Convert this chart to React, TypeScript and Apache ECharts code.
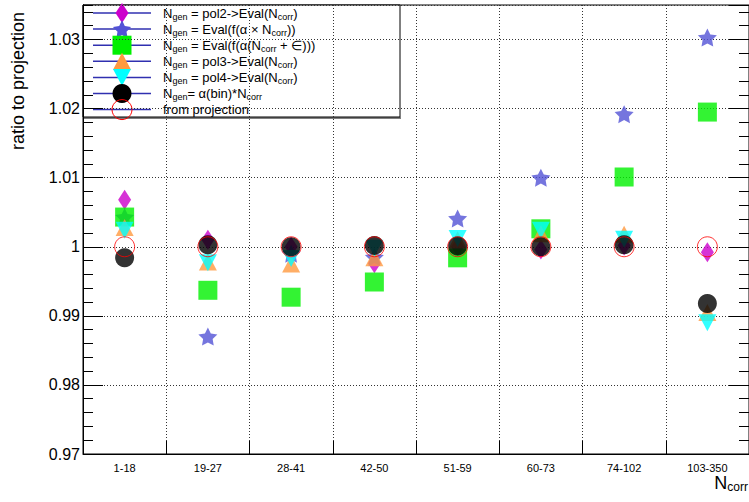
import React, { useEffect, useRef } from "react";
import * as echarts from "echarts";

const FONT = "'Liberation Sans', Arial, Helvetica, sans-serif";

const categories = ["1-18", "19-27", "28-41", "42-50", "51-59", "60-73", "74-102", "103-350"];

// N_gen = pol2->Eval(N_corr)   (magenta diamond)
const pol2Vals = [1.0068, 1.001, 1.0, 0.9976, 1.0, 0.9996, 1.0002, 0.9992];
// N_gen = Eval(f(alpha x N_corr))  (blue star)
const evalAlphaVals = [1.0043, 0.987, 0.999, 0.9985, 1.0041, 1.01, 1.0192, 1.0303];
// N_gen = Eval(f(alpha(N_corr + eps)))  (green square)
const evalAlphaEpsVals = [1.0043, 0.9937, 0.9927, 0.9949, 0.9984, 1.0026, 1.0101, 1.0195];
// N_gen = pol3->Eval(N_corr)  (orange triangle up)
const pol3Vals = [1.0028, 0.9978, 0.9975, 0.9984, 1.001, 1.0019, 1.0018, 0.9905];
// N_gen = pol4->Eval(N_corr)  (cyan triangle down)
const pol4Vals = [1.0024, 0.9977, 0.9983, 0.9998, 1.0012, 1.0024, 1.0011, 0.989];
// N_gen = alpha(bin)*N_corr  (black circle)
const alphaBinVals = [0.9984, 1.0003, 1.0, 1.0002, 1.0001, 1.0, 1.0003, 0.9918];
// from projection (red open circle)
const projectionVals = [1.0, 1.0, 1.0, 1.0, 1.0, 1.0, 1.0, 1.0];

const yMin = 0.97;
const yMax = 1.035;
const yMajor = 0.01;
const yMinor = 0.002;

const legendTexts = [
  "{m|N}{s|gen}{m| = pol2->Eval(N}{s|corr}{m|)}",
  "{m|N}{s|gen}{m| = Eval(f(α × N}{s|corr}{m|))}",
  "{m|N}{s|gen}{m| = Eval(f(α(N}{s|corr}{m| + ∈)))}",
  "{m|N}{s|gen}{m| = pol3->Eval(N}{s|corr}{m|)}",
  "{m|N}{s|gen}{m| = pol4->Eval(N}{s|corr}{m|)}",
  "{m|N}{s|gen}{m|= α(bin)*N}{s|corr}",
  "{m|from projection}",
];

const starPts: number[][] = [
  [50, 0], [64.7, 29.8], [97.55, 34.55], [73.78, 57.73], [79.39, 90.45],
  [50, 75], [20.61, 90.45], [26.22, 57.73], [2.45, 34.55], [35.3, 29.8],
];
const STAR = "path://M" + starPts.map((p) => p[0] + "," + p[1]).join(" L") + " Z";

const C_MAG = "#cc00cc";
const C_STAR = "#5252d6";
const C_GREEN = "#00f000";
const C_ORANGE = "#ff9a40";
const C_CYAN = "#00ffff";
const C_BLACK = "#000000";
const C_RED = "#ff0000";

export default function App() {
  const ref = useRef<HTMLDivElement>(null);
  useEffect(() => {
    const chart = echarts.init(ref.current!, null, { renderer: "svg" });

    const gridLeft = 83;
    const gridTop = 5;
    const gridW = 668;
    const gridH = 449;

    const dotted = { type: [1, 2] as any, color: "#333", width: 1 };

    const mkY = (interval: number, pos: "left" | "right", tickLen: number, labels: boolean, split: boolean) => ({
      type: "value",
      min: yMin,
      max: yMax,
      interval,
      position: pos,
      axisLine: { show: true, lineStyle: { color: "#000", width: 1 } },
      axisTick: { show: true, inside: true, length: tickLen, lineStyle: { color: "#000", width: 1 } },
      axisLabel: {
        show: labels,
        fontSize: 16,
        fontFamily: FONT,
        color: "#000",
        margin: 3,
        showMaxLabel: false,
        formatter: (v: number) => {
          const k = Math.round(v * 100);
          if (Math.abs(v * 100 - k) > 0.01) return "";
          return String(k / 100);
        },
      },
      splitLine: { show: split, lineStyle: dotted },
    });

    const series: any[] = [
      { name: "pol2", data: pol2Vals, symbol: "diamond", symbolSize: [13, 20], itemStyle: { color: C_MAG } },
      { name: "evalAlpha", data: evalAlphaVals, symbol: STAR, symbolSize: [19, 18], itemStyle: { color: C_STAR } },
      { name: "evalAlphaEps", data: evalAlphaEpsVals, symbol: "rect", symbolSize: 19, itemStyle: { color: C_GREEN } },
      { name: "pol3", data: pol3Vals, symbol: "triangle", symbolSize: [18, 17], itemStyle: { color: C_ORANGE } },
      { name: "pol4", data: pol4Vals, symbol: "triangle", symbolRotate: 180, symbolSize: [18, 17], itemStyle: { color: C_CYAN } },
      { name: "alphaBin", data: alphaBinVals, symbol: "circle", symbolSize: 19, itemStyle: { color: C_BLACK } },
      {
        name: "projection",
        data: projectionVals,
        symbol: "circle",
        symbolSize: 20,
        itemStyle: { color: "rgba(0,0,0,0)", borderColor: C_RED, borderWidth: 1 },
      },
    ].map((s) => ({ ...s, type: "scatter", xAxisIndex: 0, yAxisIndex: 0, silent: true }));

    // legend graphic
    const lgX = 83, lgY = 5, lgW = 317, lgH = 112;
    const rowY = (i: number) => 13 + i * 16.1;
    const mx = 122;
    const legendChildren: any[] = [
      { type: "rect", shape: { x: lgX, y: lgY, width: lgW, height: lgH }, style: { fill: "#fff", stroke: "#000", lineWidth: 1 } },
      { type: "line", shape: { x1: lgX + 1, y1: lgY + lgH + 1, x2: lgX + lgW + 1, y2: lgY + lgH + 1 }, style: { stroke: "#000", lineWidth: 1 } },
    ];
    const markerFor = (i: number, cy: number): any => {
      switch (i) {
        case 0:
          return { type: "polygon", shape: { points: [[mx, cy - 10], [mx + 6.5, cy], [mx, cy + 10], [mx - 6.5, cy]] }, style: { fill: C_MAG } };
        case 1:
          return { type: "polygon", shape: { points: starPts.map((p) => [mx - 9.5 + p[0] * 0.19, cy - 9 + p[1] * 0.2]) }, style: { fill: C_STAR } };
        case 2:
          return { type: "rect", shape: { x: mx - 9.5, y: cy - 9.5, width: 19, height: 19 }, style: { fill: C_GREEN } };
        case 3:
          return { type: "polygon", shape: { points: [[mx, cy - 8.5], [mx + 9, cy + 8.5], [mx - 9, cy + 8.5]] }, style: { fill: C_ORANGE } };
        case 4:
          return { type: "polygon", shape: { points: [[mx, cy + 8.5], [mx + 9, cy - 8.5], [mx - 9, cy - 8.5]] }, style: { fill: C_CYAN } };
        case 5:
          return { type: "circle", shape: { cx: mx, cy, r: 9.5 }, style: { fill: C_BLACK } };
        default:
          return { type: "circle", shape: { cx: mx, cy, r: 10 }, style: { fill: "none", stroke: C_RED, lineWidth: 1 } };
      }
    };
    legendTexts.forEach((t, i) => {
      const cy = rowY(i);
      legendChildren.push({ type: "line", shape: { x1: 93, y1: cy, x2: 151, y2: cy }, style: { stroke: "#3030b0", lineWidth: 1.5 } });
    });
    legendTexts.forEach((t, i) => {
      const cy = rowY(i);
      legendChildren.push(markerFor(i, cy));
      legendChildren.push({
        type: "text",
        x: 163,
        y: cy,
        style: {
          text: t,
          align: "left",
          verticalAlign: "middle",
          fill: "#000",
          rich: {
            m: { fontSize: 13, fontFamily: FONT, fill: "#000" },
            s: { fontSize: 9, fontFamily: FONT, fill: "#000", padding: [7, 0, 0, 0] },
          },
        },
      });
    });

    const option: any = {
      animation: false,
      backgroundColor: "#fff",
      grid: { left: gridLeft, top: gridTop, width: gridW, height: gridH, show: true, borderColor: "#000", borderWidth: 1, backgroundColor: "rgba(0,0,0,0)" },
      xAxis: {
        type: "category",
        data: categories,
        boundaryGap: true,
        axisLine: { show: true, lineStyle: { color: "#000", width: 1 } },
        axisTick: { show: true, inside: true, length: 13, lineStyle: { color: "#000", width: 1 } },
        axisLabel: { fontSize: 11, fontFamily: FONT, color: "#000", margin: 8 },
        splitLine: { show: true, lineStyle: dotted },
      },
      yAxis: [
        mkY(yMajor, "left", 20, true, true),
        mkY(yMinor, "left", 10, false, false),
        mkY(yMajor, "right", 20, false, false),
        mkY(yMinor, "right", 10, false, false),
      ],
      series,
      graphic: [
        { type: "group", z: 100, children: legendChildren },
        {
          type: "text",
          z: 100,
          x: 18,
          y: 12,
          rotation: Math.PI / 2,
          style: { text: "ratio to projection", fontSize: 18, fontFamily: FONT, fill: "#000", align: "right", verticalAlign: "middle" },
        },
        {
          type: "text",
          z: 100,
          x: 748,
          y: 483,
          style: {
            text: "{n|N}{s|corr}",
            align: "right",
            verticalAlign: "middle",
            rich: {
              n: { fontSize: 18, fontFamily: FONT, fill: "#000" },
              s: { fontSize: 12, fontFamily: FONT, fill: "#000", padding: [8, 0, 0, 0] },
            },
          },
        },
      ],
    };
    chart.setOption(option);
    return () => chart.dispose();
  }, []);
  return (
    <div
      ref={ref}
      style={{ position: "fixed", left: 0, top: 0, width: 749, height: 502, background: "#fff" }}
    />
  );
}
